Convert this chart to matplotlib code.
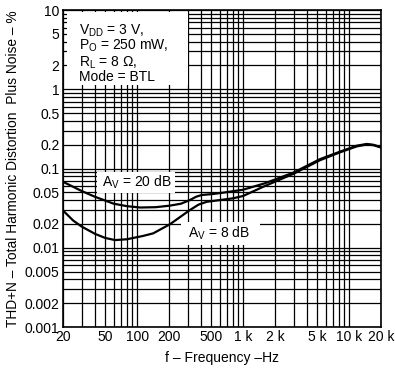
"""THD+N versus frequency, BTL mode, two gain settings."""

import matplotlib

matplotlib.use("Agg")
import matplotlib.pyplot as plt
from matplotlib.patches import Rectangle
from matplotlib.ticker import FixedLocator, NullFormatter

plt.rcParams["font.family"] = ["Liberation Sans", "DejaVu Sans"]
plt.rcParams["mathtext.fontset"] = "custom"
plt.rcParams["mathtext.rm"] = "Liberation Sans"
plt.rcParams["mathtext.it"] = "Liberation Sans"
plt.rcParams["mathtext.default"] = "regular"

# Av = 20 dB curve
freq_20db = [20, 30, 40, 60, 80, 107, 150, 204, 260, 315, 360, 407, 520, 680,
             1000, 1600, 3000, 5300, 8200, 11800, 14700, 17000, 20000]
thd_20db = [0.068, 0.052, 0.044, 0.036, 0.0335, 0.0322, 0.0325, 0.034,
            0.036, 0.040, 0.044, 0.0463, 0.0477, 0.050, 0.054, 0.065, 0.089,
            0.131, 0.163, 0.194, 0.204, 0.199, 0.186]

# Av = 8 dB curve
freq_8db = [20, 25, 30, 40, 50, 62, 80, 114, 142, 204, 250, 315, 380, 454,
            605, 800, 1000, 1600, 3000, 5300, 8200, 11800, 14700, 17000, 20000]
thd_8db = [0.0295, 0.022, 0.0185, 0.015, 0.0133, 0.0125, 0.0128, 0.0141,
           0.0152, 0.0198, 0.024, 0.0299, 0.035, 0.038, 0.040, 0.042, 0.045,
           0.060, 0.086, 0.127, 0.160, 0.190, 0.201, 0.197, 0.184]

x_ticks = [20, 50, 100, 200, 500, 1000, 2000, 5000, 10000, 20000]
x_tick_labels = ["20", "50", "100", "200", "500", "1 k", "2 k", "5 k",
                 "10 k", "20 k"]
y_ticks = [0.001, 0.002, 0.005, 0.01, 0.02, 0.05, 0.1, 0.2, 0.5, 1, 2, 5, 10]
y_tick_labels = ["0.001", "0.002", "0.005", "0.01", "0.02", "0.05", "0.1",
                 "0.2", "0.5", "1", "2", "5", "10"]

conditions = [r"V$_{DD}$ = 3 V,", r"P$_{O}$ = 250 mW,", r"R$_{L}$ = 8 Ω,",
              "Mode = BTL"]

x_grid = [m * 10 ** e for e in range(1, 5) for m in range(1, 10)]
x_grid = [v for v in x_grid if 20 <= v <= 20000]
y_grid = [m * 10 ** e for e in range(-3, 1) for m in range(1, 10)] + [10]

figure = plt.figure(figsize=(3.95, 3.68), dpi=100)
axis = figure.add_axes([0.1595, 0.1114, 0.805, 0.8614])

axis.set_xscale("log")
axis.set_yscale("log")
axis.set_xlim(20, 20000)
axis.set_ylim(0.001, 10)

for xv in x_grid:
    axis.axvline(xv, color="black", lw=0.9, zorder=1)
for yv in y_grid:
    axis.axhline(yv, color="black", lw=0.9, zorder=1)

axis.plot(freq_20db, thd_20db, color="black", lw=1.6, zorder=4)
axis.plot(freq_8db, thd_8db, color="black", lw=1.6, zorder=4)

axis.xaxis.set_major_locator(FixedLocator(x_ticks))
axis.xaxis.set_minor_locator(FixedLocator([]))
axis.set_xticklabels(x_tick_labels)
axis.xaxis.set_minor_formatter(NullFormatter())
axis.yaxis.set_major_locator(FixedLocator(y_ticks))
axis.yaxis.set_minor_locator(FixedLocator([]))
axis.set_yticklabels(y_tick_labels)
axis.tick_params(length=0, labelsize=10, pad=2.5, colors="black")

for spine in axis.spines.values():
    spine.set_linewidth(1.2)
    spine.set_zorder(5)

# white boxes behind the annotations
axis.add_patch(Rectangle((0.013, 0.763), 0.38, 0.231, transform=axis.transAxes,
                         facecolor="white", edgecolor="none", zorder=2))
axis.add_patch(Rectangle((0.107, 0.423), 0.245, 0.066, transform=axis.transAxes,
                         facecolor="white", edgecolor="none", zorder=2))
axis.add_patch(Rectangle((0.371, 0.259), 0.248, 0.072, transform=axis.transAxes,
                         facecolor="white", edgecolor="none", zorder=2))

for text, ypos in zip(conditions, [0.924, 0.874, 0.823, 0.776]):
    axis.text(0.05, ypos, text, transform=axis.transAxes, fontsize=10,
              va="baseline", ha="left", zorder=3)

axis.text(0.233, 0.457, r"A$_{V}$ = 20 dB", transform=axis.transAxes,
          fontsize=10, va="center", ha="center", zorder=3)
axis.text(0.49, 0.297, r"A$_{V}$ = 8 dB", transform=axis.transAxes,
          fontsize=10, va="center", ha="center", zorder=3)

axis.set_xlabel("f – Frequency –Hz", fontsize=10, labelpad=5)
axis.set_ylabel("THD+N – Total Harmonic Distortion  Plus Noise – %",
                fontsize=9.9, labelpad=3)

figure.savefig("out.png", dpi=100)
plt.close(figure)
